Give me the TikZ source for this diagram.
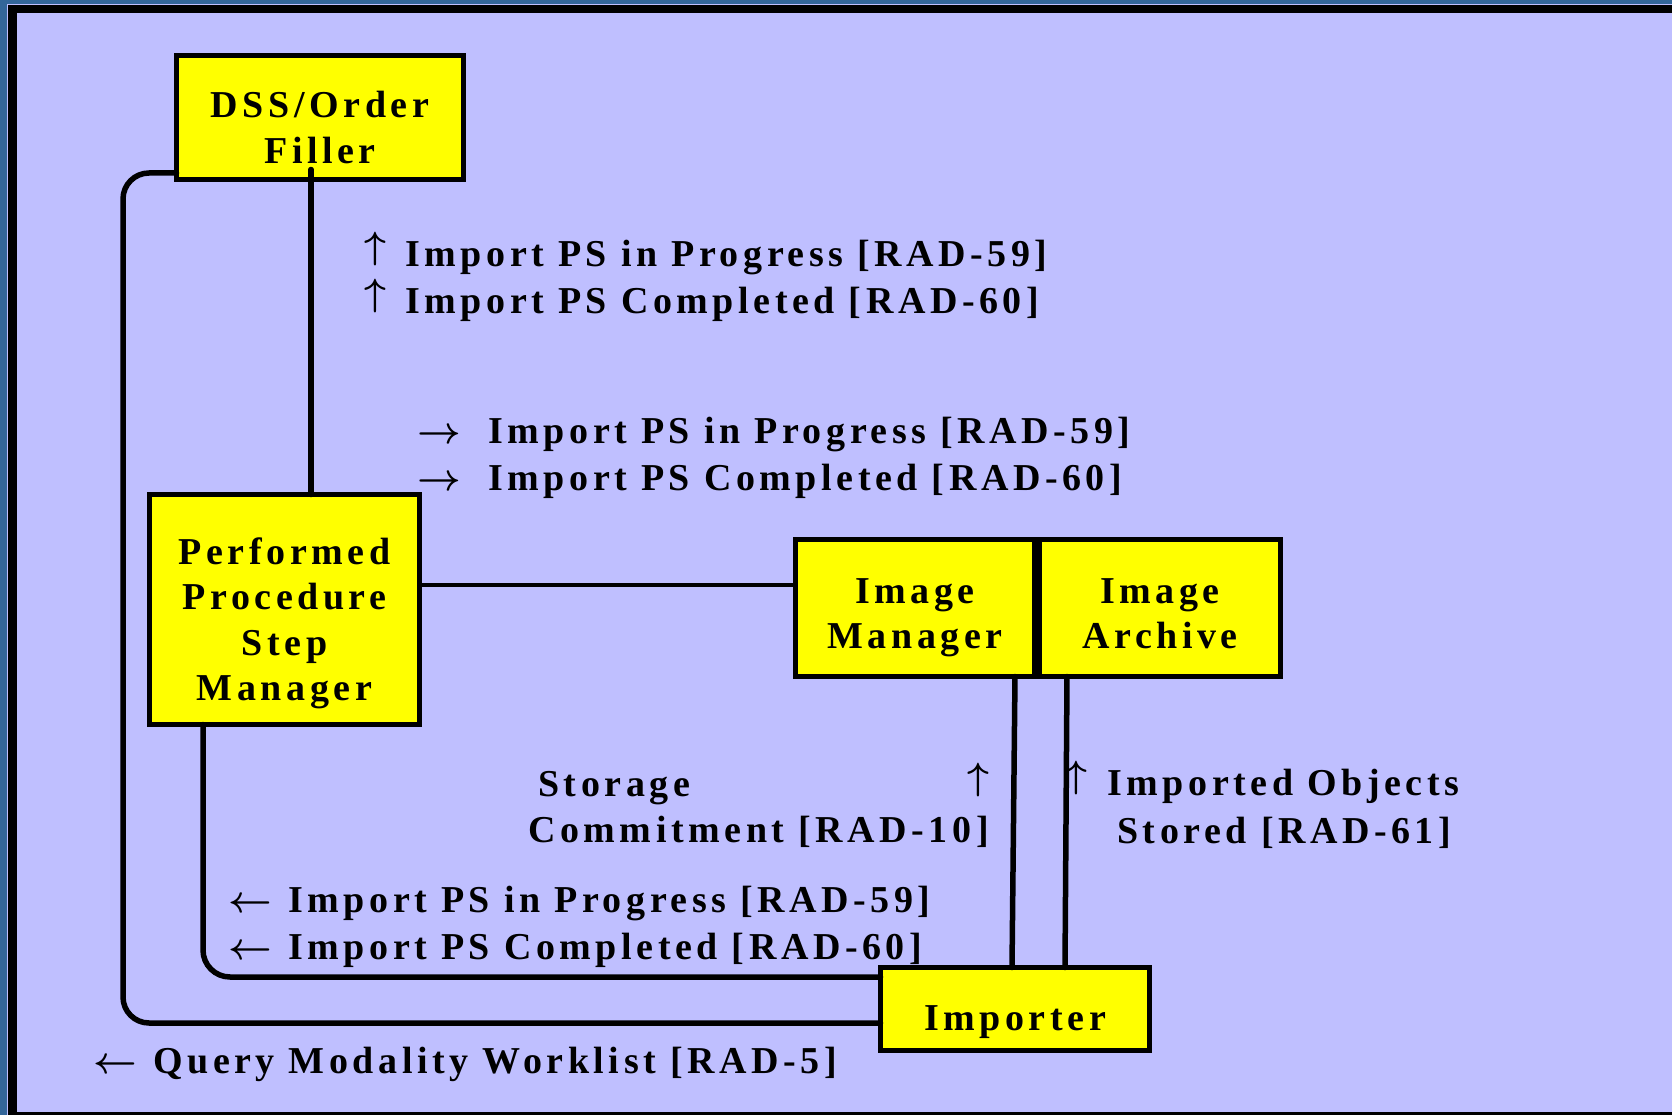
\documentclass[tikz,border=0pt]{standalone}
\usepackage{fontspec}
\setmainfont{Liberation Serif}
\newfontfamily\lblfont{Liberation Serif}[LetterSpace=12]
\definecolor{bgblue}{RGB}{51,102,153}
\definecolor{lav}{RGB}{191,191,255}
\definecolor{boxy}{RGB}{255,255,0}
\newcommand\myup{\raisebox{7.4pt}{\scalebox{3.8}{\normalsize\boldmath$\uparrow$}}}
\newcommand\myright{\scalebox{3.8}{\normalsize\boldmath$\rightarrow$}}
\newcommand\myleft{\scalebox{3.8}{\normalsize\boldmath$\leftarrow$}}
\begin{document}
\begin{tikzpicture}[x=1pt,y=-1pt,
  txt/.style={font=\lblfont\bfseries\fontsize{38}{45.5}\selectfont},
  box/.style={txt, draw=black, line width=5pt, fill=boxy, inner sep=0pt, outer sep=0pt, align=center},
  msg/.style={txt, anchor=base west, inner sep=0pt},
  conn/.style={draw=black, line width=5.5pt, line cap=round},
  thinconn/.style={draw=black, line width=3.5pt}]
\useasboundingbox (0,0) rectangle (1672,1115);
% frame
\fill[bgblue] (0,0) rectangle (1672,1115);
\fill[lav] (7,4) rectangle (1700,1120);
\fill[black] (8,5.5) rectangle (1700,1120);
\fill[lav] (17,13.5) rectangle (1700,1111.5);
% boxes
\node[box, minimum width=287pt, minimum height=124pt, text width=280pt, text height=50pt, text depth=49pt] (dss) at (320,117.5) {DSS/Order\\Filler};
\node[box, minimum width=270pt, minimum height=230pt, text width=262pt, text height=22pt, text depth=113pt] (ppsm) at (284.5,609.5) {Performed\\Procedure\\Step\\Manager};
\node[box, minimum width=239pt, minimum height=137pt, text width=232pt, text height=50pt, text depth=60pt] (im) at (915,608) {Image\\Manager};
\node[box, minimum width=241pt, minimum height=137pt, text width=234pt, text height=50pt, text depth=60pt] (ia) at (1160,608) {Image\\Archive};
\node[box, minimum width=269pt, minimum height=83pt, text width=260pt, text height=62pt, text depth=20pt] (imp) at (1015,1009) {Importer};
% messages
\node[msg] (a1) at (405,266) {\llap{\myup\hspace{19pt}}Import PS in Progress [RAD-59]};
\node[msg] (a2) at (405,313) {\llap{\myup\hspace{19pt}}Import PS Completed [RAD-60]};
\node[msg] (b1) at (488,443) {\llap{\myright\hspace{27pt}}Import PS in Progress [RAD-59]};
\node[msg] (b2) at (488,490) {\llap{\myright\hspace{27pt}}Import PS Completed [RAD-60]};
\node[msg] (c1) at (288,912) {\llap{\myleft\hspace{16pt}}Import PS in Progress [RAD-59]};
\node[msg] (c2) at (288,959) {\llap{\myleft\hspace{16pt}}Import PS Completed [RAD-60]};
\node[msg] (q) at (153,1073) {\llap{\myleft\hspace{16pt}}Query Modality Worklist [RAD-5]};
\node[msg] (s1) at (538,796) {Storage};
\node[msg] (s2) at (528,842) {Commitment [RAD-10]};
\node[msg] (sarr) at (967,797) {\myup};
\node[msg] (o1) at (1107,795) {\llap{\myup\hspace{20pt}}Imported Objects};
\node[msg] (o2) at (1117,843) {Stored [RAD-61]};
% connectors
\coordinate (hy) at (0,585);
\draw[conn] ([xshift=-9pt,yshift=10pt]dss.south) -- ([xshift=-9pt]dss.south |- ppsm.north);
\draw[thinconn] (ppsm.east |- hy) -- (im.west |- hy);
\draw[conn, rounded corners=26pt] ([yshift=-55.5pt]dss.west) -- (123,173) -- (123,1023) -- ([yshift=-14pt]imp.west);
\draw[conn, rounded corners=27pt] ([xshift=-81.5pt]ppsm.south) -- (203,977) -- ([yshift=32pt]imp.west);
\draw[conn] ([xshift=100pt]im.south) -- ([xshift=-3pt]imp.north);
\draw[conn] ([xshift=-93pt]ia.south) -- ([xshift=50pt]imp.north);
\end{tikzpicture}
\end{document}
